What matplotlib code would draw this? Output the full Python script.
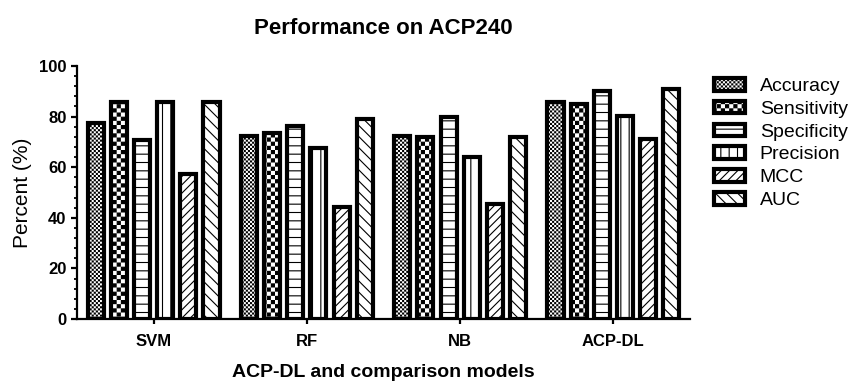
import numpy as np
import matplotlib
matplotlib.use("Agg")
import matplotlib.pyplot as plt
import matplotlib.hatch as mhatch
from matplotlib.path import Path
from matplotlib.ticker import MultipleLocator

# ---------------- data ----------------
models = ["SVM", "RF", "NB", "ACP-DL"]
metrics = ["Accuracy", "Sensitivity", "Specificity", "Precision", "MCC", "AUC"]
accuracy = [77.6, 72.2, 72.5, 85.6]
sensitivity = [85.6, 73.6, 72.1, 84.8]
specificity = [70.8, 76.2, 80.0, 90.1]
precision = [85.6, 67.5, 63.9, 80.4]
mcc = [57.4, 44.4, 45.5, 71.3]
auc = [85.6, 79.2, 71.8, 90.8]

# ---------------- custom checkerboard hatch ('*') ----------------
HATCH_LW = 0.8


class CheckerHatch(mhatch.HatchPatternBase):
    def __init__(self, hatch, density):
        n = int(hatch.count('*') * density * 2)
        if n % 2:
            n += 1
        self.num_cells = n
        self.num_vertices = (n * n // 2) * 5

    def set_vertices_and_codes(self, vertices, codes):
        n = self.num_cells
        s = 1.0 / n
        d = (HATCH_LW / 72.0) / 2.0
        k = 0
        for i in range(n):
            for j in range(n):
                if (i + j) % 2 == 0:
                    x0, y0 = i * s + d, j * s + d
                    x1, y1 = (i + 1) * s - d, (j + 1) * s - d
                    vertices[k:k + 5] = [(x0, y0), (x1, y0), (x1, y1), (x0, y1), (x0, y0)]
                    codes[k] = Path.MOVETO
                    codes[k + 1:k + 4] = Path.LINETO
                    codes[k + 4] = Path.CLOSEPOLY
                    k += 5


for idx, cls in enumerate(mhatch._hatch_types):
    if cls is mhatch.Stars:
        mhatch._hatch_types[idx] = CheckerHatch

plt.rcParams['font.family'] = ['Liberation Sans', 'DejaVu Sans']
plt.rcParams['hatch.linewidth'] = HATCH_LW
plt.rcParams['hatch.color'] = 'black'

fig = plt.figure(figsize=(8.57, 3.81), dpi=100)
ax = fig.add_axes([77 / 857, 1 - 319 / 381, (690 - 77) / 857, (319 - 66) / 381])

series = [accuracy, sensitivity, specificity, precision, mcc, auc]
hatches = ['****', '**', '--', '||', '////', '\\\\\\']
pitch = 0.151
width = 0.105
x = np.arange(len(models))
for k, (vals, name, h) in enumerate(zip(series, metrics, hatches)):
    ax.bar(x + (k - 2.5) * pitch, vals, width=width, facecolor='white',
           edgecolor='black', linewidth=3.0, hatch=h, label=name, zorder=2)

ax.set_xlim(-0.5, 3.5)
ax.set_ylim(0, 100)
ax.set_xticks(x)
ax.set_xticklabels(models, fontsize=12, fontweight='bold')
ax.yaxis.set_major_locator(MultipleLocator(20))
ax.yaxis.set_minor_locator(MultipleLocator(4))
for lab in ax.get_yticklabels():
    lab.set_fontweight('bold')
    lab.set_fontsize(12)

for s in ['top', 'right']:
    ax.spines[s].set_visible(False)
for s in ['left', 'bottom']:
    ax.spines[s].set_linewidth(1.6)
ax.tick_params(axis='y', which='major', length=4.5, width=1.6, pad=3)
ax.tick_params(axis='y', which='minor', length=2.5, width=1.3)
ax.tick_params(axis='x', which='major', length=3.6, width=1.6, pad=7)

ax.set_xlabel("ACP-DL and comparison models", fontsize=14, fontweight='bold', labelpad=11)
ax.set_ylabel("Percent (%)", fontsize=15, labelpad=5)
ax.set_title("Performance on ACP240", fontsize=16, fontweight='bold', pad=23)

fig.legend(loc='upper left', bbox_to_anchor=(714 / 857, 1 - 78 / 381),
           bbox_transform=fig.transFigure, frameon=False, fontsize=14,
           handlelength=1.6, handleheight=0.62, handletextpad=0.75,
           labelspacing=0.29, borderpad=0, borderaxespad=0)

fig.savefig("out.png", dpi=100)
